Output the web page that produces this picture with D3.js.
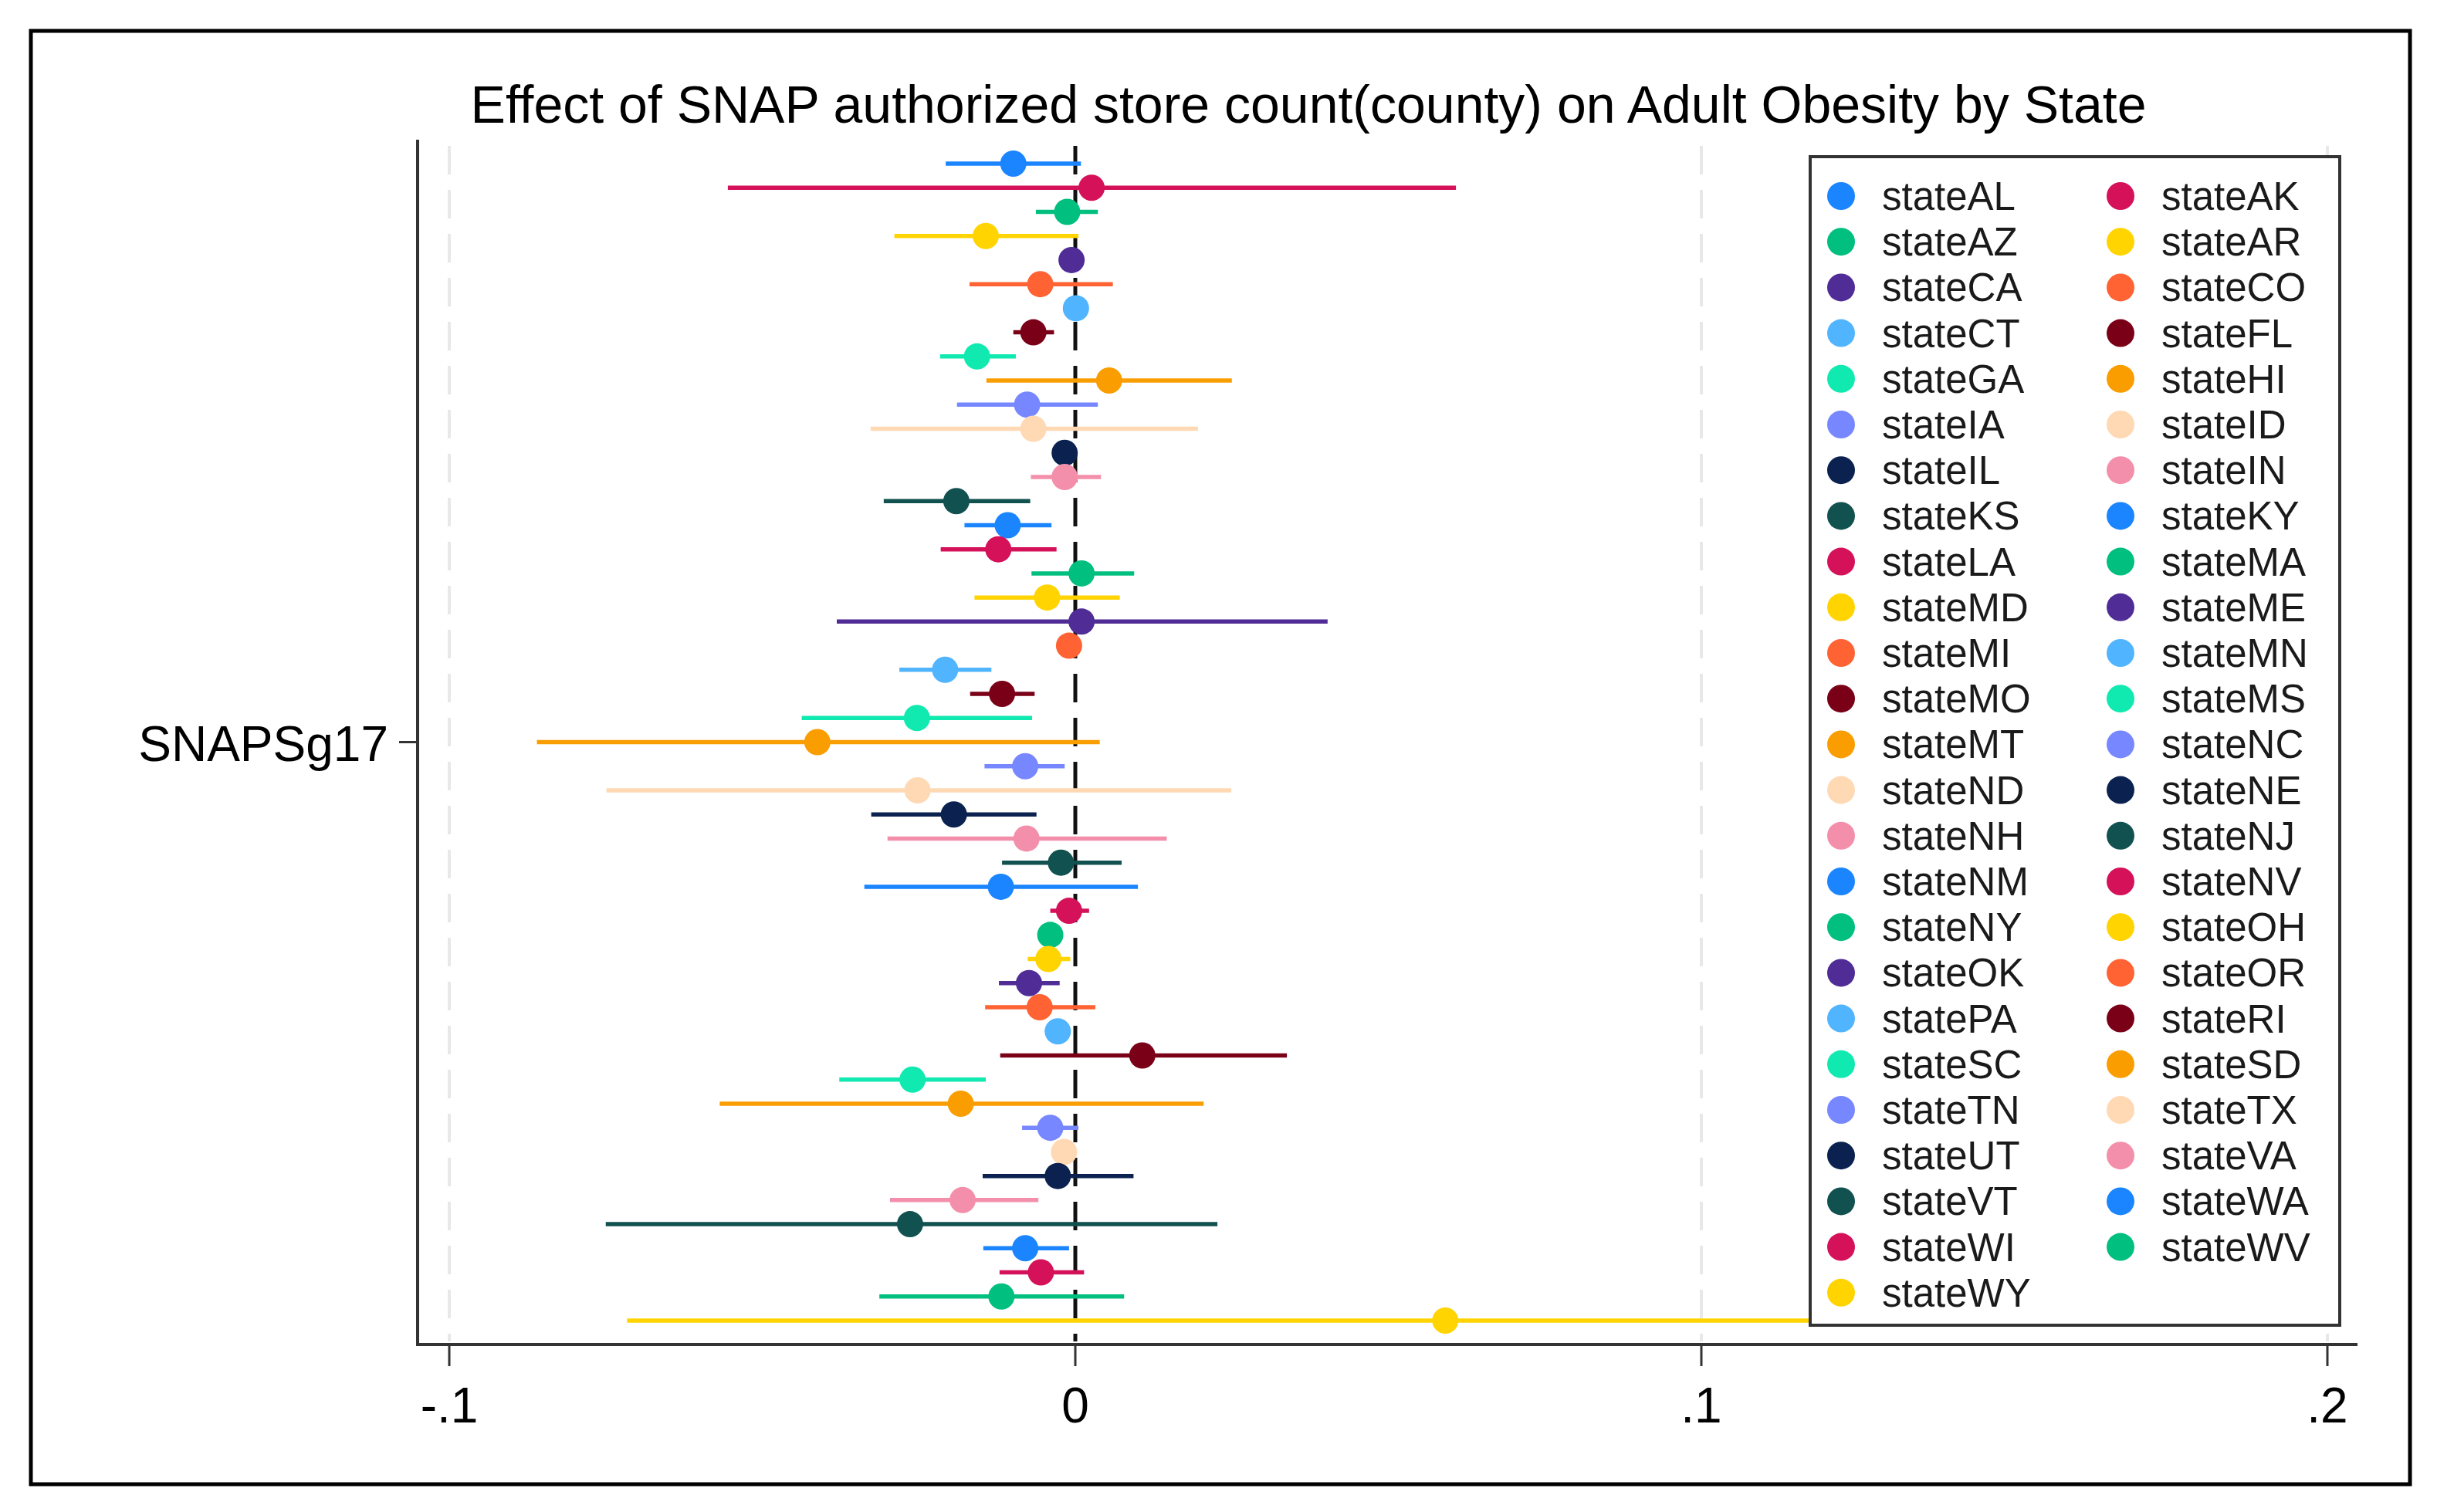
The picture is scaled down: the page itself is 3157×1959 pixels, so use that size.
<!DOCTYPE html>
<html>
<head>
<meta charset="utf-8">
<script src="https://cdn.jsdelivr.net/npm/d3@7"></script>
<style>
  body { margin: 0; background: #fff; }
  text { font-family: "Liberation Sans", Arial, sans-serif; }
</style>
</head>
<body>
<svg id="chart" width="3157" height="1959"></svg>
<script>
// states, top to bottom (same order as the legend)
var states = ["AL","AK","AZ","AR","CA","CO","CT","FL","GA","HI","IA","ID","IL","IN","KS","KY","LA","MA","MD","ME",
  "MI","MN","MO","MS","MT","NC","ND","NE","NH","NJ","NM","NV","NY","OH","OK","OR","PA","RI","SC","SD",
  "TN","TX","UT","VA","VT","WA","WI","WV","WY"];

// point estimates
var coef = [-0.0099, 0.0026, -0.0013, -0.0143, -0.0006, -0.0056, 0.0001, -0.0067, -0.0157, 0.0054,
  -0.0077, -0.0067, -0.0017, -0.0017, -0.0190, -0.0108, -0.0123, 0.0010, -0.0045, 0.0010,
  -0.0010, -0.0208, -0.0117, -0.0253, -0.0412, -0.0080, -0.0252, -0.0194, -0.0078, -0.0023,
  -0.0119, -0.0010, -0.0040, -0.0043, -0.0074, -0.0057, -0.0028, 0.0107, -0.0260, -0.0183,
  -0.0040, -0.0018, -0.0028, -0.0180, -0.0264, -0.0080, -0.0055, -0.0118, 0.0591];

// 95% CI lower / upper
var lower = [-0.0207, -0.0555, -0.0063, -0.0289, -0.0016, -0.0169, -0.0009, -0.0099, -0.0216, -0.0142,
  -0.0189, -0.0327, -0.0027, -0.0071, -0.0306, -0.0177, -0.0215, -0.0070, -0.0161, -0.0381,
  -0.0020, -0.0281, -0.0168, -0.0437, -0.0860, -0.0145, -0.0749, -0.0326, -0.0300, -0.0117,
  -0.0337, -0.0040, -0.0050, -0.0076, -0.0122, -0.0144, -0.0038, -0.0120, -0.0377, -0.0568,
  -0.0085, -0.0028, -0.0148, -0.0296, -0.0750, -0.0147, -0.0121, -0.0313, -0.0716];
var upper = [0.0009, 0.0608, 0.0036, 0.0005, 0.0004, 0.0060, 0.0011, -0.0034, -0.0095, 0.0250,
  0.0036, 0.0196, -0.0007, 0.0041, -0.0072, -0.0038, -0.0030, 0.0094, 0.0071, 0.0403,
  0.0000, -0.0134, -0.0065, -0.0069, 0.0039, -0.0017, 0.0249, -0.0062, 0.0146, 0.0074,
  0.0100, 0.0022, -0.0030, -0.0008, -0.0025, 0.0032, -0.0018, 0.0338, -0.0143, 0.0205,
  0.0005, -0.0008, 0.0093, -0.0059, 0.0227, -0.0010, 0.0014, 0.0078, 0.1900];

var xTicks = [-0.1, 0, 0.1, 0.2];
var xTickLabels = ["-.1", "0", ".1", ".2"];

var palette = ["#1a85ff","#d41159","#00bf7f","#ffd400","#4f2c96","#ff6233","#50b4ff","#7a0018",
  "#10eab0","#f99d00","#7787ff","#ffd8b4","#0b2250","#f48fab","#11514f"];

var rows = states.map(function(s, i) {
  return { state: s, label: "state" + s, b: coef[i], lo: lower[i], hi: upper[i], color: palette[i % palette.length] };
});

var svg = d3.select("#chart");
svg.append("rect").attr("width", 3157).attr("height", 1959).attr("fill", "#fff");

// outer frame
svg.append("rect").attr("x", 40).attr("y", 40).attr("width", 3082).attr("height", 1883)
  .attr("fill", "none").attr("stroke", "#000").attr("stroke-width", 5);

var x = d3.scaleLinear().domain([-0.1, 0.2]).range([582, 3015]);
var y = d3.scalePoint().domain(states).range([212, 1711]);

var plotTop = 181, plotBottom = 1742, axisLeft = 541, axisRight = 3054;

// title
svg.append("text").attr("x", 1695).attr("y", 159).attr("text-anchor", "middle")
  .attr("font-size", 68).attr("fill", "#000")
  .text("Effect of SNAP authorized store count(county) on Adult Obesity by State");

// dashed gridlines
svg.selectAll(".grid").data(xTicks.filter(function(d) { return d !== 0; })).enter()
  .append("line").attr("class", "grid")
  .attr("x1", function(d) { return x(d); }).attr("x2", function(d) { return x(d); })
  .attr("y1", plotTop + 8).attr("y2", plotBottom - 4)
  .attr("stroke", "#e8e8e8").attr("stroke-width", 4).attr("stroke-dasharray", "37,20");

// zero reference line
svg.append("line").attr("x1", x(0)).attr("x2", x(0)).attr("y1", plotTop + 8).attr("y2", plotBottom - 4)
  .attr("stroke", "#111").attr("stroke-width", 5).attr("stroke-dasharray", "37,20");

// CI lines and points
var g = svg.selectAll(".row").data(rows).enter().append("g").attr("class", "row");
g.append("line")
  .attr("x1", function(d) { return x(d.lo); }).attr("x2", function(d) { return x(d.hi); })
  .attr("y1", function(d) { return y(d.state); }).attr("y2", function(d) { return y(d.state); })
  .attr("stroke", function(d) { return d.color; }).attr("stroke-width", 5.5);
g.append("circle")
  .attr("cx", function(d) { return x(d.b); }).attr("cy", function(d) { return y(d.state); })
  .attr("r", 17).attr("fill", function(d) { return d.color; });

// axes
var xAxis = svg.append("g").attr("transform", "translate(0," + plotBottom + ")");
xAxis.append("line").attr("x1", axisLeft).attr("x2", axisRight).attr("stroke", "#333").attr("stroke-width", 4);
xAxis.selectAll(".tick").data(xTicks).enter().append("line")
  .attr("x1", function(d) { return x(d); }).attr("x2", function(d) { return x(d); })
  .attr("y1", 0).attr("y2", 28).attr("stroke", "#333").attr("stroke-width", 3);
xAxis.selectAll(".lab").data(xTicks).enter().append("text")
  .attr("x", function(d) { return x(d); }).attr("y", 101).attr("text-anchor", "middle")
  .attr("font-size", 64).attr("fill", "#000")
  .text(function(d, i) { return xTickLabels[i]; });

svg.append("line").attr("x1", axisLeft).attr("x2", axisLeft).attr("y1", plotTop).attr("y2", plotBottom + 2)
  .attr("stroke", "#333").attr("stroke-width", 4);
var yMid = (y(states[0]) + y(states[states.length - 1])) / 2;
svg.append("line").attr("x1", 517).attr("x2", axisLeft).attr("y1", yMid).attr("y2", yMid)
  .attr("stroke", "#333").attr("stroke-width", 3);
svg.append("text").attr("x", 503).attr("y", yMid + 24).attr("text-anchor", "end")
  .attr("font-size", 64).attr("fill", "#000").text("SNAPSg17");

// legend
var legendX = 2345, legendY = 203, legendW = 686, legendH = 1514;
var legend = svg.append("g");
legend.append("rect").attr("x", legendX).attr("y", legendY).attr("width", legendW).attr("height", legendH)
  .attr("fill", "#fff").attr("stroke", "#333").attr("stroke-width", 4);
var items = legend.selectAll(".item").data(rows).enter().append("g")
  .attr("transform", function(d, i) {
    var col = i % 2, r = Math.floor(i / 2);
    return "translate(" + (2385 + col * 362) + "," + (254 + r * 59.2) + ")";
  });
items.append("circle").attr("r", 18).attr("fill", function(d) { return d.color; });
items.append("text").attr("x", 53).attr("y", 18).attr("font-size", 51).attr("fill", "#1a1a1a")
  .text(function(d) { return d.label; });
</script>
</body>
</html>
